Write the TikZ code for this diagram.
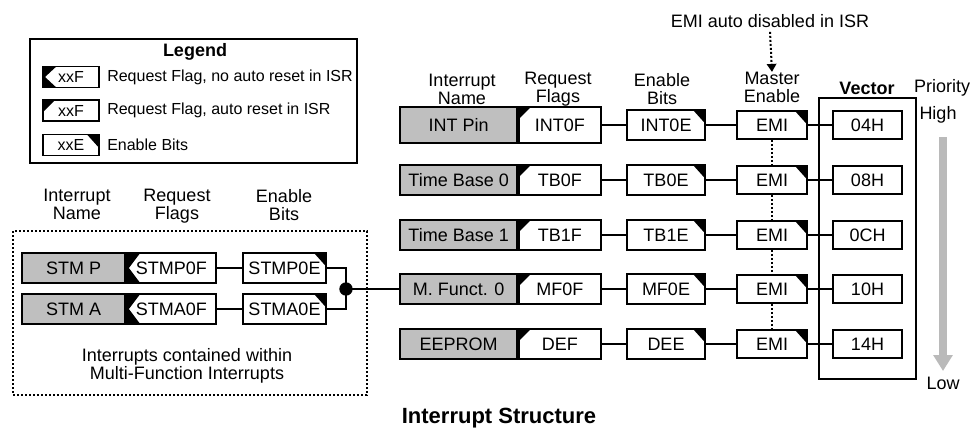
\documentclass[tikz,border=0pt]{standalone}
\usepackage{fontspec}
\setmainfont{Liberation Sans}
\usetikzlibrary{arrows.meta}

\tikzset{
  box/.style={draw, line width=1.3pt, inner sep=0pt, minimum height=22.5pt, font=\fontsize{13.5}{14}\selectfont},
  topleft/.style={path picture={\fill[black] (path picture bounding box.north west) -- ++(9pt,0) -- ++(-9pt,-9pt) -- cycle;}},
  notch/.style={path picture={\fill[black] (path picture bounding box.north west) -- ++(10pt,0) -- ([xshift=1.5pt]path picture bounding box.west) -- ([xshift=10pt]path picture bounding box.south west) -- (path picture bounding box.south west) -- cycle;}},
  topright/.style={path picture={\fill[black] (path picture bounding box.north east) -- ++(-9pt,0) -- ++(9pt,-10pt) -- cycle;}},
  intname/.style={box, fill=black!25, minimum width=87.75pt, anchor=east},
  reqflag/.style={box, fill=white, minimum width=61.5pt, anchor=west, topleft},
  enbit/.style={box, fill=white, minimum width=58.5pt, topright},
  emibox/.style={enbit, minimum width=52.5pt, minimum height=21pt},
  vecbox/.style={box, minimum width=51.75pt, minimum height=21pt},
  stmname/.style={intname, minimum width=77.25pt},
  stmflag/.style={box, fill=white, minimum width=66.75pt, anchor=west, notch},
  stmen/.style={enbit, minimum width=62.25pt},
  legbox/.style={box, fill=white, minimum width=42pt, minimum height=15.75pt, font=\fontsize{12}{12}\selectfont},
  legtext/.style={anchor=west, inner sep=0pt, font=\fontsize{12}{12}\selectfont},
  lbl/.style={align=center, inner sep=0pt, font=\fontsize{13.5}{13.5}\selectfont},
  wire/.style={line width=1.3pt},
  dotline/.style={line width=1.5pt, dash pattern=on 1.5pt off 1.5pt},
  prioarrow/.style={line width=6.5pt, draw=black!27, -{Triangle[width=14pt,length=12pt]}},
}

\begin{document}
\begin{tikzpicture}[x=0.75pt, y=0.75pt]
  \useasboundingbox (0,0) rectangle (971,-428);

  % legend
  \draw[line width=1.3pt] (30,-39) rectangle (357,-163);
  \node[lbl, font=\bfseries\fontsize{13.5}{13.5}\selectfont] (legtitle) at (195,-52) {Legend};
  \node[legbox, notch] (leg1) at (71,-77) {xxF};
  \node[legbox, topleft] (leg2) at (71,-110.5) {xxF};
  \node[legbox, topright] (leg3) at (71,-145) {xxE};
  \node[legtext] (legt1) at (107,-77) {Request Flag, no auto reset in ISR};
  \node[legtext] (legt2) at (107,-110.5) {Request Flag, auto reset in ISR};
  \node[legtext] (legt3) at (107,-145) {Enable Bits};

  % multi-function part
  \node[lbl] (lname) at (77,-204) {Interrupt\\Name};
  \node[lbl] (lflag) at (177,-206) {Request\\Flags};
  \node[lbl] (lbits) at (284,-205) {Enable\\Bits};
  \draw[dotline] (13,-231) rectangle (367,-395);
  \node[stmname] (stmp) at (126,-268) {STM P};
  \node[stmflag] (stmpf) at (126,-268) {STMP0F};
  \node[stmen] (stmpe) at (284.5,-268) {STMP0E};
  \node[stmname] (stma) at (126,-309) {STM A};
  \node[stmflag] (stmaf) at (126,-309) {STMA0F};
  \node[stmen] (stmae) at (284.5,-309) {STMA0E};
  \node[lbl] (mfnote) at (187,-366) {Interrupts contained within\\Multi-Function Interrupts};
  \draw[wire] (stmpf) -- (stmpe);
  \draw[wire] (stmaf) -- (stmae);
  \coordinate (join) at (346,-289);
  \draw[wire] (stmpe.east) -| (join);
  \draw[wire] (stmae.east) -| (join);
  \fill (join) circle (5pt);

  % column heads
  \node[lbl] (hname) at (462,-89) {Interrupt\\Name};
  \node[lbl] (hflag) at (558,-89) {Request\\Flags};
  \node[lbl] (hbits) at (662,-89) {Enable\\Bits};
  \node[lbl] (hmaster) at (772,-87.5) {Master\\Enable};
  \node[lbl, font=\bfseries\fontsize{13.5}{13.5}\selectfont] (hvec) at (867,-88) {Vector};
  \node[lbl] (prio) at (942,-88) {Priority};
  \node[lbl] (high) at (938,-115) {High};
  \node[lbl] (low) at (943,-383) {Low};
  \node[lbl] (emitxt) at (770,-21) {EMI auto disabled in ISR};
  \draw[dotline, -{Triangle[width=7pt,length=6pt]}] (emitxt.south) ++(0,-4) -- (hmaster.north);

  % interrupt rows
  \node[intname, minimum height=27pt] (intn) at (518,-125) {INT Pin};
  \node[reqflag, minimum height=27pt] (intf) at (518,-125) {INT0F};
  \node[enbit] (inte) at (666,-125) {INT0E};
  \node[emibox] (emi1) at (772,-125) {EMI};
  \node[vecbox] (vec1) at (867.5,-125) {04H};

  \node[intname] (tb0n) at (518,-180) {Time Base 0};
  \node[reqflag] (tb0f) at (518,-180) {TB0F};
  \node[enbit] (tb0e) at (666,-180) {TB0E};
  \node[emibox] (emi2) at (772,-180) {EMI};
  \node[vecbox] (vec2) at (867.5,-180) {08H};

  \node[intname] (tb1n) at (518,-235) {Time Base 1};
  \node[reqflag] (tb1f) at (518,-235) {TB1F};
  \node[enbit] (tb1e) at (666,-235) {TB1E};
  \node[emibox] (emi3) at (772,-235) {EMI};
  \node[vecbox] (vec3) at (867.5,-235) {0CH};

  \node[intname] (mf0n) at (518,-289) {M. Funct. 0};
  \node[reqflag] (mf0f) at (518,-289) {MF0F};
  \node[enbit] (mf0e) at (666,-289) {MF0E};
  \node[emibox] (emi4) at (772,-289) {EMI};
  \node[vecbox] (vec4) at (867.5,-289) {10H};

  \node[intname] (deen) at (518,-344) {EEPROM};
  \node[reqflag] (deef) at (518,-344) {DEF};
  \node[enbit] (deee) at (666,-344) {DEE};
  \node[emibox] (emi5) at (772,-344) {EMI};
  \node[vecbox] (vec5) at (867.5,-344) {14H};

  \draw[wire] (join) -- (mf0n.west);
  \draw[wire] (intf) -- (inte);
  \draw[wire] (inte) -- (emi1);
  \draw[wire] (emi1) -- (vec1);
  \draw[wire] (tb0f) -- (tb0e);
  \draw[wire] (tb0e) -- (emi2);
  \draw[wire] (emi2) -- (vec2);
  \draw[wire] (tb1f) -- (tb1e);
  \draw[wire] (tb1e) -- (emi3);
  \draw[wire] (emi3) -- (vec3);
  \draw[wire] (mf0f) -- (mf0e);
  \draw[wire] (mf0e) -- (emi4);
  \draw[wire] (emi4) -- (vec4);
  \draw[wire] (deef) -- (deee);
  \draw[wire] (deee) -- (emi5);
  \draw[wire] (emi5) -- (vec5);
  \draw[dotline] (emi1) -- (emi2);
  \draw[dotline] (emi2) -- (emi3);
  \draw[dotline] (emi3) -- (emi4);
  \draw[dotline] (emi4) -- (emi5);

  % vector frame and priority
  \draw[line width=1.3pt] (819,-98) rectangle (916,-379);
  \coordinate (ptop) at (943,-137);
  \coordinate (pbot) at (943,-371);
  \draw[prioarrow] (ptop) -- (pbot);

  \node[lbl, font=\bfseries\fontsize{16.5}{16.5}\selectfont] (title) at (499,-418) {Interrupt Structure};
\end{tikzpicture}
\end{document}
